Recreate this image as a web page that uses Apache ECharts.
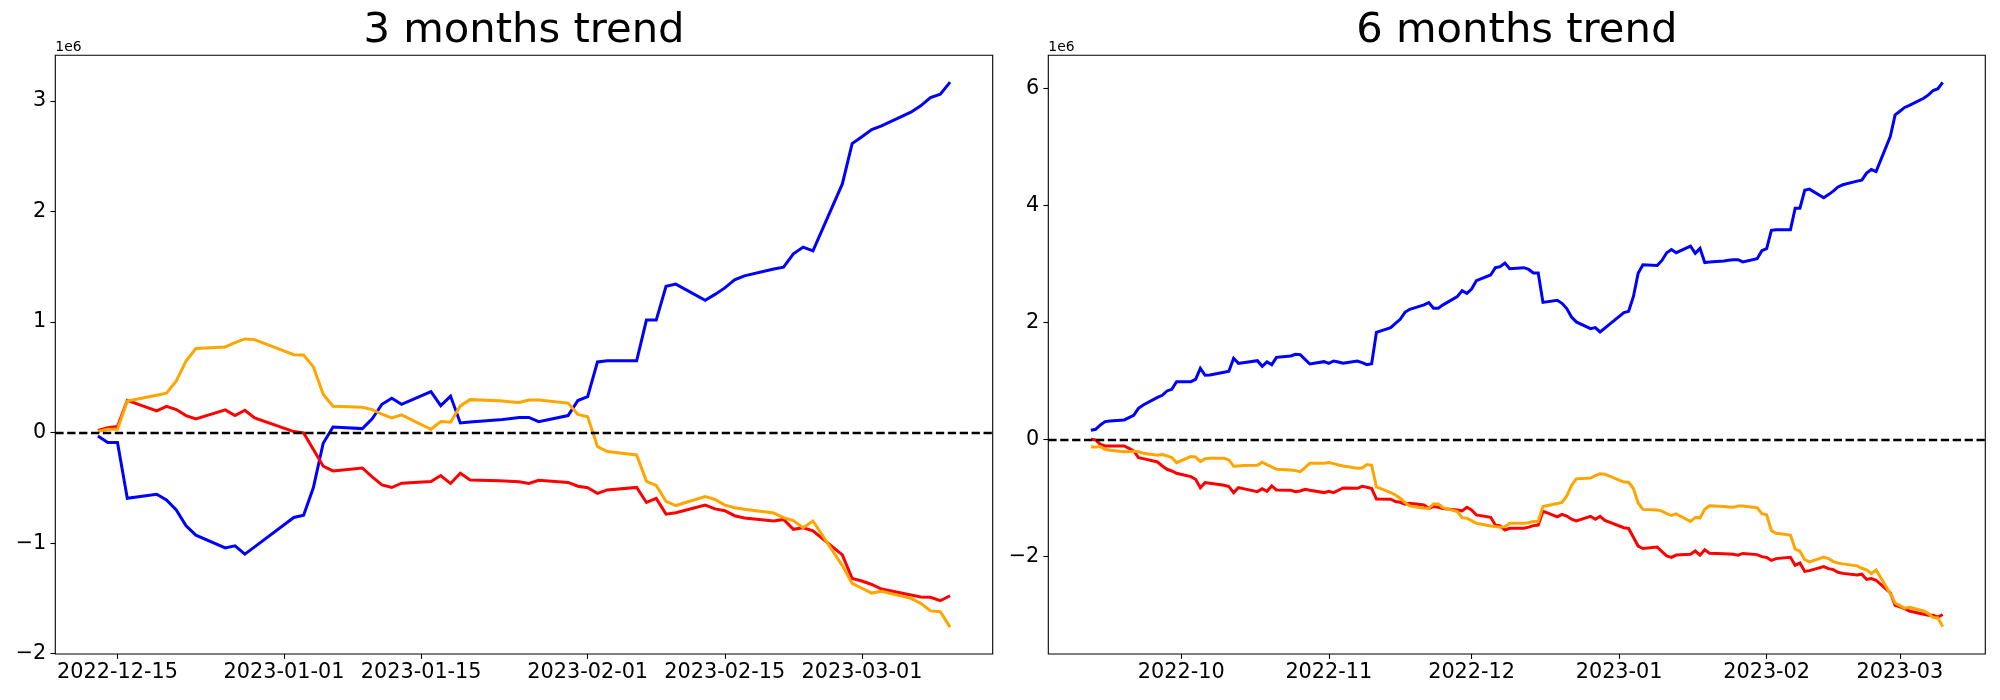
<!DOCTYPE html>
<html><head><meta charset="utf-8">
<script src="https://cdn.jsdelivr.net/npm/echarts@6.0.0/dist/echarts.min.js"></script>
<style>html,body{margin:0;padding:0;background:#fff}#c{width:2000px;height:700px}</style>
</head><body><div id="c"></div>
<script>
// ---------- values in units of 1e6 ----------
const L_DATES = ['2022-12-13','2022-12-14','2022-12-15','2022-12-16','2022-12-19','2022-12-20','2022-12-21','2022-12-22','2022-12-23','2022-12-26','2022-12-27','2022-12-28','2022-12-29',
'2023-01-02','2023-01-03','2023-01-04','2023-01-05','2023-01-06','2023-01-09','2023-01-10','2023-01-11','2023-01-12','2023-01-13','2023-01-16','2023-01-17','2023-01-18','2023-01-19','2023-01-20',
'2023-01-23','2023-01-24','2023-01-25','2023-01-26','2023-01-27','2023-01-30','2023-01-31','2023-02-01','2023-02-02','2023-02-03','2023-02-06','2023-02-07','2023-02-08','2023-02-09','2023-02-10',
'2023-02-13','2023-02-14','2023-02-15','2023-02-16','2023-02-17','2023-02-20','2023-02-21','2023-02-22','2023-02-23','2023-02-24','2023-02-27','2023-02-28',
'2023-03-01','2023-03-02','2023-03-03','2023-03-06','2023-03-07','2023-03-08','2023-03-09','2023-03-10'];
const L_BLUE = [-0.03,-0.09,-0.09,-0.594,-0.558,-0.61,-0.70,-0.844,-0.928,-1.043,-1.025,-1.10,-1.034,
-0.768,-0.747,-0.497,-0.096,0.051,0.036,0.124,0.256,0.31,0.256,0.37,0.244,0.33,0.087,0.096,
0.115,0.126,0.137,0.137,0.099,0.154,0.29,0.325,0.639,0.649,0.649,1.018,1.018,1.323,1.343,
1.196,1.25,1.309,1.381,1.418,1.48,1.497,1.617,1.678,1.644,2.249,2.614,
2.676,2.741,2.775,2.898,2.956,3.031,3.062,3.17];
const L_RED = [0.02,0.045,0.054,0.292,0.196,0.238,0.208,0.154,0.124,0.205,0.154,0.202,0.133,
0.009,-0.003,-0.154,-0.304,-0.347,-0.32,-0.40,-0.473,-0.497,-0.458,-0.443,-0.389,-0.461,-0.368,-0.428,
-0.436,-0.44,-0.444,-0.461,-0.431,-0.451,-0.485,-0.499,-0.55,-0.519,-0.496,-0.632,-0.595,-0.738,-0.725,
-0.656,-0.69,-0.707,-0.752,-0.772,-0.80,-0.786,-0.875,-0.861,-0.889,-1.107,-1.319,
-1.343,-1.374,-1.415,-1.47,-1.487,-1.49,-1.521,-1.476];
const L_ORANGE = [0.01,0.03,0.03,0.286,0.338,0.356,0.467,0.648,0.76,0.775,0.814,0.847,0.841,
0.705,0.702,0.594,0.347,0.238,0.229,0.208,0.166,0.133,0.16,0.03,0.10,0.093,0.241,0.298,
0.287,0.28,0.273,0.294,0.294,0.267,0.164,0.144,-0.126,-0.171,-0.202,-0.441,-0.478,-0.622,-0.66,
-0.578,-0.605,-0.656,-0.68,-0.694,-0.728,-0.769,-0.796,-0.861,-0.80,-1.203,-1.364,
-1.408,-1.452,-1.435,-1.50,-1.545,-1.613,-1.62,-1.76];

const R_DATES = ['2022-09-12','2022-09-13','2022-09-14','2022-09-15','2022-09-16','2022-09-19','2022-09-20','2022-09-21','2022-09-22','2022-09-23','2022-09-26','2022-09-27','2022-09-28','2022-09-29','2022-09-30',
'2022-10-03','2022-10-04','2022-10-05','2022-10-06','2022-10-07','2022-10-10','2022-10-11','2022-10-12','2022-10-13','2022-10-14','2022-10-17','2022-10-18','2022-10-19','2022-10-20','2022-10-21','2022-10-24','2022-10-25','2022-10-26','2022-10-27','2022-10-28',
'2022-10-31','2022-11-01','2022-11-02','2022-11-03','2022-11-04','2022-11-07','2022-11-08','2022-11-09','2022-11-10','2022-11-11','2022-11-14','2022-11-15','2022-11-16','2022-11-17','2022-11-18',
'2022-11-21','2022-11-22','2022-11-23','2022-11-24','2022-11-25','2022-11-28','2022-11-29','2022-11-30','2022-12-01','2022-12-02','2022-12-05','2022-12-06','2022-12-07','2022-12-08','2022-12-09','2022-12-12',
'2022-12-13','2022-12-14','2022-12-15','2022-12-16','2022-12-19','2022-12-20','2022-12-21','2022-12-22','2022-12-23','2022-12-26','2022-12-27','2022-12-28','2022-12-29',
'2023-01-02','2023-01-03','2023-01-04','2023-01-05','2023-01-06','2023-01-09','2023-01-10','2023-01-11','2023-01-12','2023-01-13','2023-01-16','2023-01-17','2023-01-18','2023-01-19','2023-01-20',
'2023-01-23','2023-01-24','2023-01-25','2023-01-26','2023-01-27','2023-01-30','2023-01-31','2023-02-01','2023-02-02','2023-02-03','2023-02-06','2023-02-07','2023-02-08','2023-02-09','2023-02-10',
'2023-02-13','2023-02-14','2023-02-15','2023-02-16','2023-02-17','2023-02-20','2023-02-21','2023-02-22','2023-02-23','2023-02-24','2023-02-27','2023-02-28',
'2023-03-01','2023-03-02','2023-03-03','2023-03-06','2023-03-07','2023-03-08','2023-03-09','2023-03-10'];
const R_BLUE = [0.154,0.171,0.245,0.302,0.314,0.331,0.371,0.41,0.53,0.587,0.718,0.753,0.827,0.855,0.986,
0.986,1.026,1.214,1.095,1.10,1.146,1.163,1.385,1.30,1.311,1.345,1.249,1.323,1.277,1.402,1.425,1.454,1.448,1.368,1.288,
1.328,1.30,1.34,1.323,1.30,1.34,1.311,1.277,1.294,1.83,1.91,1.984,2.052,2.172,2.223,
2.298,2.338,2.241,2.241,2.30,2.44,2.543,2.497,2.571,2.714,2.811,2.936,2.953,3.016,2.919,2.936,
2.906,2.846,2.846,2.342,2.378,2.326,2.236,2.092,2.008,1.893,1.911,1.836,1.902,
2.168,2.189,2.439,2.84,2.987,2.972,3.06,3.192,3.246,3.192,3.306,3.18,3.266,3.023,3.032,
3.051,3.062,3.073,3.073,3.035,3.09,3.226,3.261,3.575,3.585,3.585,3.954,3.954,4.259,4.279,
4.132,4.186,4.245,4.317,4.354,4.416,4.433,4.553,4.614,4.58,5.185,5.55,
5.612,5.677,5.711,5.834,5.892,5.967,5.998,6.105];
const R_RED = [0.0,-0.011,-0.086,-0.114,-0.114,-0.114,-0.154,-0.20,-0.314,-0.331,-0.388,-0.456,-0.513,-0.542,-0.582,
-0.639,-0.684,-0.827,-0.741,-0.752,-0.787,-0.81,-0.912,-0.827,-0.844,-0.895,-0.844,-0.889,-0.798,-0.867,-0.872,-0.895,-0.884,-0.855,-0.872,
-0.912,-0.889,-0.912,-0.872,-0.832,-0.838,-0.804,-0.821,-0.844,-1.02,-1.026,-1.066,-1.078,-1.112,-1.095,
-1.123,-1.18,-1.152,-1.163,-1.186,-1.209,-1.226,-1.163,-1.209,-1.294,-1.334,-1.465,-1.482,-1.551,-1.522,-1.522,
-1.502,-1.477,-1.468,-1.23,-1.326,-1.284,-1.314,-1.368,-1.398,-1.317,-1.368,-1.32,-1.389,
-1.513,-1.525,-1.676,-1.826,-1.869,-1.842,-1.922,-1.995,-2.019,-1.98,-1.965,-1.911,-1.983,-1.89,-1.95,
-1.958,-1.962,-1.966,-1.983,-1.953,-1.973,-2.007,-2.021,-2.072,-2.041,-2.018,-2.154,-2.117,-2.26,-2.247,
-2.178,-2.212,-2.229,-2.274,-2.294,-2.322,-2.308,-2.397,-2.383,-2.411,-2.629,-2.841,
-2.865,-2.896,-2.937,-2.992,-3.009,-3.012,-3.043,-2.998];
const R_ORANGE = [-0.131,-0.131,-0.125,-0.171,-0.188,-0.211,-0.211,-0.205,-0.211,-0.239,-0.274,-0.262,-0.285,-0.314,-0.399,
-0.296,-0.302,-0.382,-0.331,-0.325,-0.325,-0.353,-0.462,-0.456,-0.45,-0.445,-0.393,-0.433,-0.473,-0.513,-0.524,-0.536,-0.553,-0.485,-0.41,
-0.41,-0.399,-0.416,-0.439,-0.456,-0.496,-0.49,-0.433,-0.445,-0.815,-0.912,-0.952,-1.009,-1.083,-1.14,
-1.18,-1.18,-1.106,-1.106,-1.169,-1.237,-1.34,-1.351,-1.391,-1.437,-1.482,-1.494,-1.505,-1.494,-1.437,-1.437,
-1.427,-1.407,-1.407,-1.151,-1.099,-1.081,-0.97,-0.789,-0.677,-0.662,-0.623,-0.59,-0.596,
-0.732,-0.735,-0.843,-1.09,-1.199,-1.208,-1.229,-1.271,-1.304,-1.277,-1.407,-1.337,-1.344,-1.196,-1.139,
-1.15,-1.157,-1.164,-1.143,-1.143,-1.17,-1.273,-1.293,-1.563,-1.608,-1.639,-1.878,-1.915,-2.059,-2.097,
-2.015,-2.042,-2.093,-2.117,-2.131,-2.165,-2.206,-2.233,-2.298,-2.237,-2.64,-2.801,
-2.845,-2.889,-2.872,-2.937,-2.982,-3.05,-3.057,-3.205];

const L_XTICKS = ['2022-12-15','2023-01-01','2023-01-15','2023-02-01','2023-02-15','2023-03-01'];
const R_XTICKS = ['2022-10-01','2022-11-01','2022-12-01','2023-01-01','2023-02-01','2023-03-01'];
const L_YTICKS = [-2,-1,0,1,2,3];
const R_YTICKS = [-2,0,2,4,6];
const TITLES = ['3 months trend','6 months trend'];
const OFFSET_TEXT = '1e6';
const COLORS = {blue:'#0000ff', red:'#ff0000', orange:'#ffa500'};

// ---------- helpers ----------
function ts(s){const p=s.split('-').map(Number);return new Date(p[0],p[1]-1,p[2]).getTime();}
function pad(n){return (n<10?'0':'')+n;}
function fmtDay(v){const d=new Date(v);return d.getFullYear()+'-'+pad(d.getMonth()+1)+'-'+pad(d.getDate());}
function fmtMonth(v){const d=new Date(v);return d.getFullYear()+'-'+pad(d.getMonth()+1);}
function fmtY(v){return (v<0?'\u2212':'')+Math.abs(v);}
function pairs(dates,vals){return dates.map((d,i)=>[ts(d),vals[i]]);}
function xRange(dates){const a=ts(dates[0]),b=ts(dates[dates.length-1]);const m=(b-a)*0.05;return [a-m,b+m];}

const FONT='DejaVu Sans';
const G = [
  {left:55.3, top:55.3, width:937.4, height:598.7},
  {left:1048.3, top:55.3, width:937.0, height:598.7}
];
const lx = xRange(L_DATES), rx = xRange(R_DATES);

function xAxis(idx, range, ticks, fmt){
  return {type:'value', gridIndex:idx, min:range[0], max:range[1], scale:true,
    axisLine:{show:false, onZero:false},
    axisTick:{show:true, length:4.9, lineStyle:{color:'#000', width:1.1}, customValues:ticks.map(ts)},
    axisLabel:{show:true, margin:8, color:'#000', fontSize:20.8, fontFamily:FONT, customValues:ticks.map(ts), formatter:fmt, hideOverlap:false},
    splitLine:{show:false}, minorTick:{show:false}};
}
function yAxis(idx, min, max, ticks){
  return {type:'value', gridIndex:idx, min:min, max:max,
    axisLine:{show:false, onZero:false},
    axisTick:{show:true, length:4.9, lineStyle:{color:'#000', width:1.1}, customValues:ticks},
    axisLabel:{show:true, margin:9, color:'#000', fontSize:20.8, fontFamily:FONT, customValues:ticks, formatter:fmtY},
    splitLine:{show:false}};
}
function line(idx, data, color, withZero){
  const s = {type:'line', xAxisIndex:idx, yAxisIndex:idx, data:data, symbol:'none', showSymbol:false,
    lineStyle:{color:color, width:3, cap:'butt', join:'miter'}, itemStyle:{color:color}, silent:true, animation:false, z:2};
  if(withZero){
    s.markLine = {silent:true, symbol:['none','none'], animation:false, label:{show:false}, z:5,
      lineStyle:{color:'#000', width:2.3, type:[8.3,3.6]}, emphasis:{disabled:true},
      data:[{yAxis:0}]};
  }
  return s;
}

const chart = echarts.init(document.getElementById('c'), null, {renderer:'canvas'});
chart.setOption({
  animation:false,
  backgroundColor:'#fff',
  grid: G.map(g=>Object.assign({show:true, borderColor:'#000', borderWidth:1.1, backgroundColor:'transparent', containLabel:false, outerBoundsMode:'none'}, g)),
  xAxis:[xAxis(0, lx, L_XTICKS, fmtDay), xAxis(1, rx, R_XTICKS, fmtMonth)],
  yAxis:[yAxis(0, -2.003, 3.413, L_YTICKS), yAxis(1, -3.673, 6.569, R_YTICKS)],
  series:[
    line(0, pairs(L_DATES,L_BLUE), COLORS.blue, false),
    line(0, pairs(L_DATES,L_RED), COLORS.red, false),
    line(0, pairs(L_DATES,L_ORANGE), COLORS.orange, true),
    line(1, pairs(R_DATES,R_BLUE), COLORS.blue, false),
    line(1, pairs(R_DATES,R_RED), COLORS.red, false),
    line(1, pairs(R_DATES,R_ORANGE), COLORS.orange, true)
  ],
  graphic:[
    {type:'text', x:G[0].left+G[0].width/2, y:31, style:{text:TITLES[0], fill:'#000', font:'41.7px "'+FONT+'"', align:'center', verticalAlign:'middle'}},
    {type:'text', x:G[1].left+G[1].width/2, y:31, style:{text:TITLES[1], fill:'#000', font:'41.7px "'+FONT+'"', align:'center', verticalAlign:'middle'}},
    {type:'text', x:G[0].left, y:47, style:{text:OFFSET_TEXT, fill:'#000', font:'13.9px "'+FONT+'"', align:'left', verticalAlign:'middle'}},
    {type:'text', x:G[1].left, y:47, style:{text:OFFSET_TEXT, fill:'#000', font:'13.9px "'+FONT+'"', align:'left', verticalAlign:'middle'}}
  ]
});
</script></body></html>
